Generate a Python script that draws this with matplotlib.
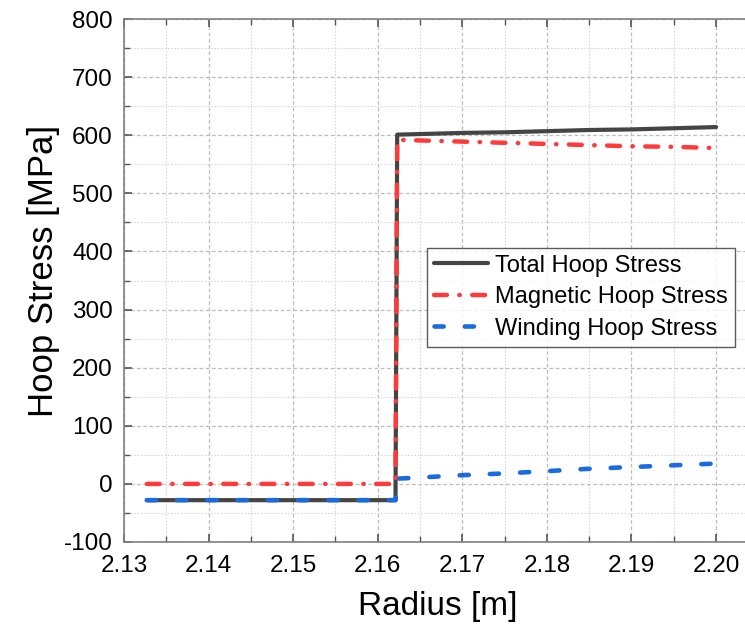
import numpy as np
import matplotlib.pyplot as plt
from matplotlib.ticker import MultipleLocator

plt.rcParams['font.family'] = ['Liberation Sans', 'DejaVu Sans']
plt.rcParams['axes.unicode_minus'] = False

# Radius [m] and hoop stresses [MPa]
radius = [2.1327, 2.1400, 2.1500, 2.1600, 2.1621, 2.1623, 2.1650, 2.1700,
          2.1750, 2.1800, 2.1850, 2.1900, 2.1950, 2.2000]
total = [-28, -28, -28, -28, -28, 601, 602, 604, 605, 607, 609, 610, 612, 614]
magnetic = [0, 0, 0, 0, 0, 592, 591, 589, 587, 585, 583, 581, 580, 578]
winding = [-28, -28, -28, -28, -28, 9, 11, 15, 18, 22, 26, 29, 32, 35]

fig = plt.figure(figsize=(7.45, 6.33), dpi=100)
ax = fig.add_axes([124 / 745, 91 / 633, 1 - 124 / 745 + 0.01, 523 / 633])

ax.plot(radius, total, color='#444444', lw=3.0, solid_capstyle='round',
        label='Total Hoop Stress', zorder=3)
ax.plot(radius, magnetic, color='#ff3a3a', lw=3.2, dashes=(2.9, 2.8, 0.1, 2.8),
        dash_capstyle='round', label='Magnetic Hoop Stress', zorder=4)
ax.plot(radius, winding, color='#1a6be0', lw=3.3, dashes=(2.0, 4.6),
        dash_capstyle='round', label='Winding Hoop Stress', zorder=5)

ax.set_xlim(2.13, 2.2043)
ax.set_ylim(-100, 800)
ax.xaxis.set_minor_locator(MultipleLocator(0.005))
ax.yaxis.set_major_locator(MultipleLocator(100))
ax.yaxis.set_minor_locator(MultipleLocator(50))
ax.set_xticks(np.round(np.arange(2.13, 2.2001, 0.01), 2))
ax.set_xticklabels(['2.13', '2.14', '2.15', '2.16', '2.17', '2.18', '2.19', '2.20'])

ax.grid(which='major', color='#bdbdbd', ls=(0, (3, 2)), lw=0.9)
ax.grid(which='minor', color='#d8d8d8', ls=(0, (1.5, 1.5)), lw=0.8)
ax.set_axisbelow(True)

ax.tick_params(which='both', direction='in', top=True, right=False,
               labelsize=17.5, color='#555555')
ax.tick_params(axis='x', pad=9)
ax.tick_params(axis='y', pad=8)
ax.tick_params(which='major', length=6, width=1.2)
ax.tick_params(which='minor', length=4, width=1.0)
for side in ['left', 'bottom', 'top']:
    ax.spines[side].set_color('#808080')
    ax.spines[side].set_linewidth(1.2)
ax.spines['right'].set_visible(False)

ax.set_xlabel('Radius [m]', fontsize=24)
ax.set_ylabel('Hoop Stress [MPa]', fontsize=25)
ax.xaxis.set_label_coords(0.5, -0.093)
ax.yaxis.set_label_coords(-0.102, 0.518)

leg = ax.legend(loc='upper left', bbox_to_anchor=(0.482, 0.563), fontsize=17,
                frameon=True, fancybox=False, handlelength=2.3,
                borderpad=0.3, labelspacing=0.4, handletextpad=0.3,
                borderaxespad=0)
leg.get_frame().set_edgecolor('#333333')
leg.get_frame().set_linewidth(1.0)

fig.savefig('out.png', dpi=100)
